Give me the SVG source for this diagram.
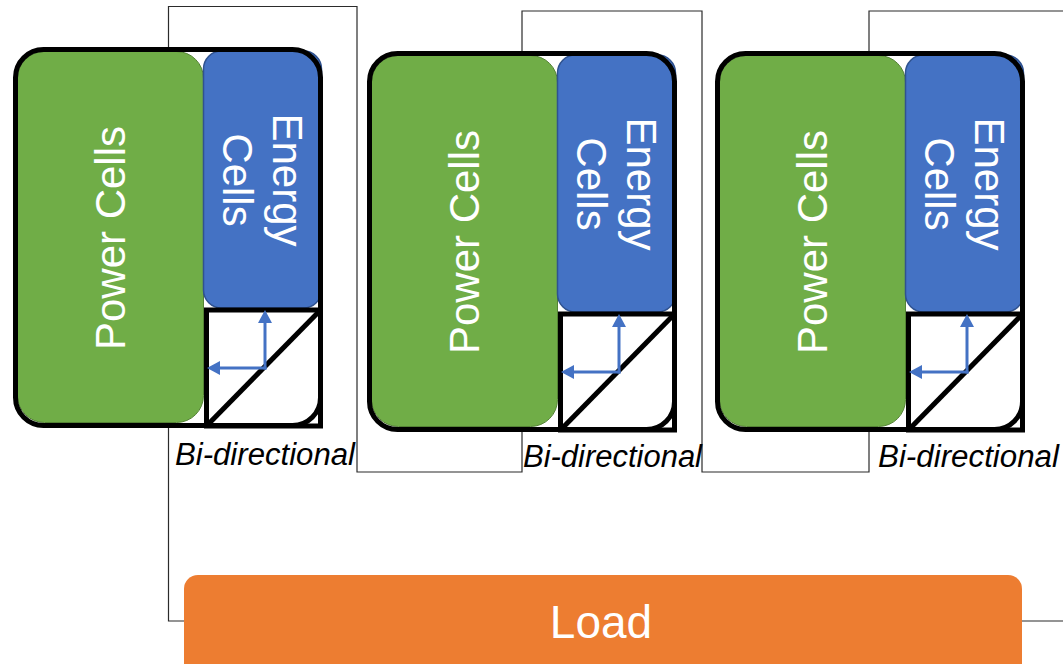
<svg xmlns="http://www.w3.org/2000/svg" width="1063" height="664" viewBox="0 0 1063 664">
  <style>
    .wire { fill: none; stroke: #2b2b2b; stroke-width: 1.2; }
    .shell-fill { fill: #ffffff; stroke: none; }
    .shell { fill: none; stroke: #000000; stroke-width: 5; }
    .power { fill: #70AD47; stroke: #548235; stroke-width: 1; }
    .energy { fill: #4472C4; stroke: #2F528F; stroke-width: 1.5; }
    .conv { fill: none; stroke: #000000; stroke-width: 5; }
    .flow { fill: none; stroke: #4472C4; stroke-width: 3; marker-end: url(#head); }
    .cell-label { font-family: "Liberation Sans", Arial, sans-serif; font-size: 42px; fill: #ffffff; text-anchor: middle; }
    .dir-label { font-family: "Liberation Sans", Arial, sans-serif; font-size: 31px; font-style: italic; fill: #000000; }
    .load-label { font-family: "Liberation Sans", Arial, sans-serif; font-size: 46px; fill: #ffffff; text-anchor: middle; }
  </style>
  <defs>
    <marker id="head" markerUnits="userSpaceOnUse" markerWidth="14" markerHeight="14" viewBox="0 0 14 14" refX="1" refY="7" orient="auto">
      <path d="M0,0 L13,7 L0,14 z" fill="#4472C4"/>
    </marker>
  </defs>

  <!-- wiring between the modules and the load -->
  <g id="connectors">
    <path class="wire" d="M184,621 H168.5 V6.5 H357 V472 H522 V11 H702 V472 H869 V11 H1063"/>
    <path class="wire" d="M1022,621 H1063"/>
  </g>

  <!-- module 1 -->
  <g id="module-1">
    <rect class="shell-fill" x="15.5" y="49.5" width="305" height="376" rx="28"/>
    <rect class="power" x="17.5" y="51.5" width="186" height="371" rx="27"/>
    <rect class="energy" x="203.5" y="51" width="118" height="257" rx="18"/>
    <rect class="shell" x="15.5" y="49.5" width="305" height="376" rx="28"/>
    <rect class="conv" x="206.5" y="310" width="114" height="116"/>
    <line class="conv" x1="206.5" y1="426" x2="320.5" y2="310"/>
    <path class="flow" d="M265,369.5 V322"/>
    <path class="flow" d="M266.5,368 H219"/>
    <text class="cell-label" transform="translate(125,238) rotate(-90)">Power Cells</text>
    <text class="cell-label" transform="translate(273,180) rotate(90)"><tspan x="0" y="0">Energy</tspan><tspan x="0" y="50">Cells</tspan></text>
    <text class="dir-label" x="175" y="465" textLength="180" lengthAdjust="spacingAndGlyphs">Bi-directional</text>
  </g>

  <!-- module 2 -->
  <g id="module-2" transform="translate(354,4)">
    <rect class="shell-fill" x="15.5" y="49.5" width="305" height="376" rx="28"/>
    <rect class="power" x="17.5" y="51.5" width="186" height="371" rx="27"/>
    <rect class="energy" x="203.5" y="51" width="118" height="257" rx="18"/>
    <rect class="shell" x="15.5" y="49.5" width="305" height="376" rx="28"/>
    <rect class="conv" x="206.5" y="310" width="114" height="116"/>
    <line class="conv" x1="206.5" y1="426" x2="320.5" y2="310"/>
    <path class="flow" d="M265,369.5 V322"/>
    <path class="flow" d="M266.5,368 H219"/>
    <text class="cell-label" transform="translate(125,238) rotate(-90)">Power Cells</text>
    <text class="cell-label" transform="translate(273,180) rotate(90)"><tspan x="0" y="0">Energy</tspan><tspan x="0" y="50">Cells</tspan></text>
    <text class="dir-label" x="169" y="463" textLength="179" lengthAdjust="spacingAndGlyphs">Bi-directional</text>
  </g>

  <!-- module 3 -->
  <g id="module-3" transform="translate(702,4)">
    <rect class="shell-fill" x="15.5" y="49.5" width="305" height="376" rx="28"/>
    <rect class="power" x="17.5" y="51.5" width="186" height="371" rx="27"/>
    <rect class="energy" x="203.5" y="51" width="118" height="257" rx="18"/>
    <rect class="shell" x="15.5" y="49.5" width="305" height="376" rx="28"/>
    <rect class="conv" x="206.5" y="310" width="114" height="116"/>
    <line class="conv" x1="206.5" y1="426" x2="320.5" y2="310"/>
    <path class="flow" d="M265,369.5 V322"/>
    <path class="flow" d="M266.5,368 H219"/>
    <text class="cell-label" transform="translate(125,238) rotate(-90)">Power Cells</text>
    <text class="cell-label" transform="translate(273,180) rotate(90)"><tspan x="0" y="0">Energy</tspan><tspan x="0" y="50">Cells</tspan></text>
    <text class="dir-label" x="176" y="463" textLength="181" lengthAdjust="spacingAndGlyphs">Bi-directional</text>
  </g>

  <!-- load -->
  <g id="load">
    <rect x="184" y="575" width="838" height="110" rx="14" fill="#ED7D31"/>
    <text class="load-label" x="601" y="638">Load</text>
  </g>
</svg>
